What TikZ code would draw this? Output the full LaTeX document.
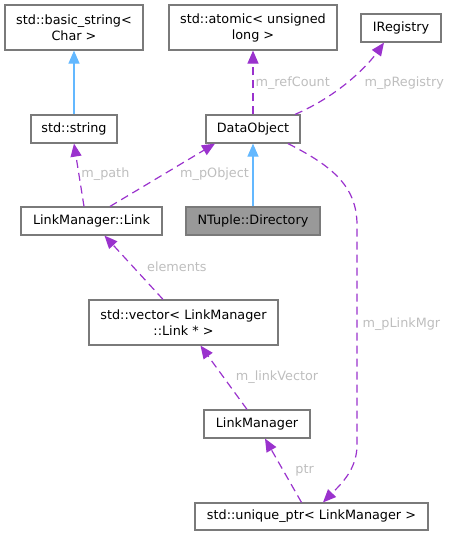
\documentclass[tikz,border=0pt]{standalone}
\usepackage{fontspec}
\setmainfont{DejaVu Sans}
\usetikzlibrary{arrows.meta}
\definecolor{edgepurple}{HTML}{9A32CD}
\definecolor{edgeblue}{HTML}{63B8FF}
\definecolor{boxline}{HTML}{7A7A7A}
\definecolor{lblgray}{HTML}{BEBEBE}
\definecolor{curfill}{HTML}{999999}
\tikzset{>={Triangle[length=13pt,width=11pt]}}

\begin{document}
\begin{tikzpicture}[x=1pt, y=-1pt, font=\fontsize{12.8}{16}\selectfont,
    cls/.style={draw=boxline, line width=1.2pt, fill=white, align=center, inner sep=0pt, minimum height=28pt},
    usage/.style={draw=edgepurple, line width=1.2pt, dash pattern=on 8pt off 5pt},
    inherit/.style={draw=edgeblue, line width=1.2pt},
    lbl/.style={text=lblgray, inner sep=2pt}]
    \useasboundingbox (0,0) rectangle (451,536);
    % classes
    \node[cls, minimum width=138pt, minimum height=45pt] (bstr) at (74,27.5) {std::basic\_string<\\ Char >};
    \node[cls, minimum width=168pt, minimum height=45pt] (atomic) at (253,27.5) {std::atomic< unsigned\\ long >};
    \node[cls, minimum width=80pt] (ireg) at (401,28) {IRegistry};
    \node[cls, minimum width=86pt] (str) at (74,129) {std::string};
    \node[cls, minimum width=94pt] (dobj) at (253,129) {DataObject};
    \node[cls, minimum width=141pt] (link) at (91.5,221) {LinkManager::Link};
    \node[cls, minimum width=134pt, fill=curfill] (dir) at (253,221) {NTuple::Directory};
    \node[cls, minimum width=189pt, minimum height=45pt] (vec) at (183.5,322.5) {std::vector< LinkManager\\ ::Link * >};
    \node[cls, minimum width=106pt] (lmgr) at (257,424) {LinkManager};
    \node[cls, minimum width=233pt, minimum height=27pt] (uptr) at (311.5,516.5) {std::unique\_ptr< LinkManager >};
    % inheritance
    \draw[inherit, ->] (str) -- (bstr);
    \draw[inherit, ->] (dir) -- (dobj);
    % members
    \draw[usage, ->] ([xshift=-7.5pt]link.north) -- node[lbl, right, pos=0.52] {m\_path} (str.south);
    \draw[usage, ->] ([xshift=18.5pt]link.north) -- node[lbl, right, pos=0.52, xshift=13pt] {m\_pObject} ([xshift=-38pt]dobj.south);
    \draw[usage, ->] (dobj) -- node[lbl, right, pos=0.49] {m\_refCount} (atomic);
    \draw[usage, ->] ([xshift=42pt]dobj.north) .. controls (340,95) and (368,65) .. ([xshift=-17pt]ireg.south)
        node[lbl, anchor=west] at (362,83) {m\_pRegistry};
    \draw[usage, ->] ([xshift=35pt]dobj.south) .. controls (330,165) and (357,185) .. (357,225)
        -- node[lbl, right, pos=0.45, xshift=3pt] {m\_pLinkMgr} (357,445)
        .. controls (357,470) and (340,485) .. ([xshift=11.5pt]uptr.north);
    \draw[usage, ->] ([xshift=-20.5pt]vec.north) -- node[lbl, right, pos=0.52, xshift=12pt] {elements} ([xshift=13pt]link.south);
    \draw[usage, ->] ([xshift=-10pt]lmgr.north) -- node[lbl, right, pos=0.51, xshift=10pt] {m\_linkVector} ([xshift=17pt]vec.south);
    \draw[usage, ->] ([xshift=-10pt]uptr.north) -- node[lbl, right, pos=0.51, xshift=10pt] {ptr} ([xshift=8pt]lmgr.south);
\end{tikzpicture}
\end{document}
